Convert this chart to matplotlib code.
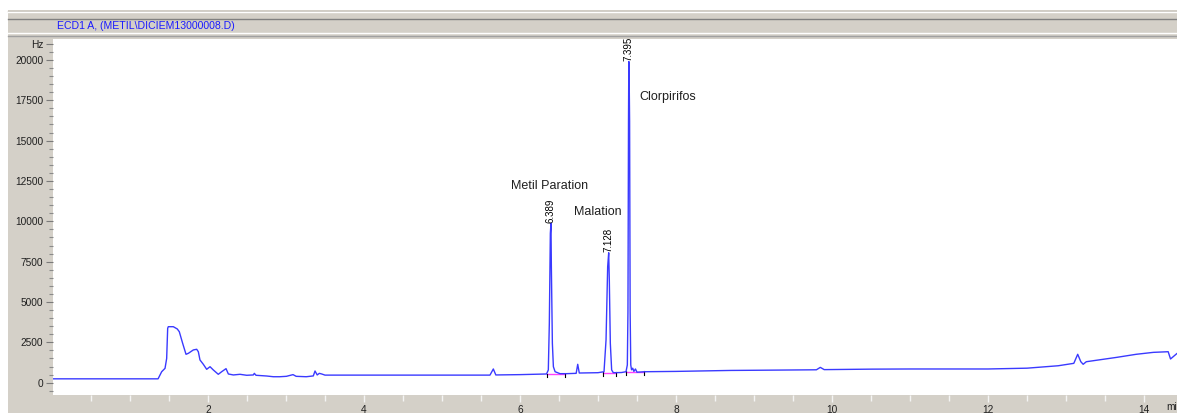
import matplotlib
matplotlib.use("Agg")
import matplotlib.pyplot as plt
from matplotlib.lines import Line2D
from matplotlib.patches import Rectangle
from matplotlib.ticker import MultipleLocator, FixedLocator

plt.rcParams['font.family'] = ['Liberation Sans', 'DejaVu Sans']

# ---------------- data ----------------
title_text = "ECD1 A, (METIL\\DICIEM13000008.D)"
y_unit = "Hz"
x_unit = "mi"

time_min = [0.0, 1.36, 1.406, 1.449, 1.47, 1.483, 1.491, 1.555, 1.606, 1.632,
            1.675, 1.718, 1.748, 1.812, 1.855, 1.876, 1.897, 1.940, 1.983, 2.026,
            2.068, 2.132, 2.175, 2.231, 2.261, 2.325, 2.41, 2.496, 2.581, 2.594,
            2.615, 2.752, 2.838, 2.92, 3.005, 3.09, 3.13, 3.26, 3.35, 3.372,
            3.40, 3.427, 3.458, 3.5, 5.615, 5.658, 5.69, 6.0, 6.34, 6.363,
            6.376, 6.389, 6.397, 6.402, 6.415, 6.428, 6.45, 6.513, 6.60, 6.72,
            6.74, 6.76, 7.0, 7.077, 7.103, 7.124, 7.137, 7.145, 7.158, 7.175,
            7.196, 7.30, 7.359, 7.376, 7.384, 7.391, 7.395, 7.400, 7.405, 7.412,
            7.42, 7.43, 7.445, 7.46, 7.48, 7.50, 7.6, 8.0, 8.7, 9.0,
            9.8, 9.85, 9.9, 10.5, 11.0, 12.0, 12.5, 12.9, 13.1, 13.15,
            13.19, 13.22, 13.26, 13.65, 13.9, 14.12, 14.31, 14.34, 14.42]
signal_hz = [240, 240, 680, 890, 1500, 3370, 3470, 3470, 3330, 3160,
             2440, 1760, 1820, 2030, 2070, 1920, 1410, 1140, 830, 990,
             790, 520, 680, 870, 540, 480, 520, 460, 480, 580,
             460, 415, 370, 370, 395, 500, 395, 370, 420, 725,
             480, 580, 540, 470, 470, 850, 480, 500, 540, 790,
             3680, 9250, 9880, 7190, 2440, 990, 680, 560, 560, 580,
             1140, 600, 620, 680, 2650, 7190, 8050, 6360, 2440, 790,
             620, 630, 680, 1100, 4400, 16200, 19900, 18650, 16200, 4400,
             1100, 800, 900, 700, 850, 650, 680, 700, 760, 770,
             800, 950, 810, 840, 850, 850, 900, 1050, 1200, 1760,
             1300, 1140, 1300, 1570, 1760, 1880, 1920, 1470, 1800]

peak_rt = [6.389, 7.128, 7.395]
peak_height = [9880, 8050, 19900]
peak_names = ["Metil Paration", "Malation", "Clorpirifos"]
# integration baselines (start, end) in minutes and levels in Hz
integ_start = [6.34, 7.07, 7.36]
integ_end = [6.58, 7.23, 7.59]
integ_level = [510, 590, 640]

y_major = [0, 2500, 5000, 7500, 10000, 12500, 15000, 17500, 20000]
x_major = [2, 4, 6, 8, 10, 12, 14]

# ---------------- figure ----------------
W, H = 1177, 413
fig = plt.figure(figsize=(W / 100, H / 100), dpi=100, facecolor='#d4d0c8')

def fx(px):
    return px / W

def fy(py):
    return 1 - py / H

# white top band and left strip
fig.add_artist(Rectangle((0, fy(9.5)), 1, 1 - fy(9.5), transform=fig.transFigure,
                         facecolor='white', edgecolor='none', zorder=0))
fig.add_artist(Rectangle((0, 0), fx(8), 1, transform=fig.transFigure,
                         facecolor='white', edgecolor='none', zorder=0))
for ypx, col, lw in [(10.5, '#c8c4bc', 1.0), (12, '#ffffff', 1.0),
                     (18.5, '#808080', 1.0), (33, '#ffffff', 1.0),
                     (36, '#a0a0a0', 1.0)]:
    fig.add_artist(Line2D([fx(8), 1], [fy(ypx), fy(ypx)], transform=fig.transFigure,
                          color=col, lw=lw, zorder=1))
fig.text(fx(57), fy(26), title_text, color='#1a1aff', fontsize=7.6,
         va='center', ha='left')

# plot area
ax_left, ax_right, ax_top, ax_bottom = 53, 1177, 39, 395
ax = fig.add_axes([fx(ax_left), fy(ax_bottom), fx(ax_right - ax_left),
                   (ax_bottom - ax_top) / H])
ax.set_facecolor('white')
ax.set_xlim(0.0128, 14.423)
ax.set_ylim(-762, 21295)

ax.plot(time_min, signal_hz, color='#3a3aff', lw=1.0, zorder=3)

for s, e, lv in zip(integ_start, integ_end, integ_level):
    ax.plot([s, e], [lv, lv], color='#ff40ff', lw=1.0, zorder=2)
    for xx in (s, e):
        ax.plot([xx, xx], [lv - 180, lv + 60], color='black', lw=0.8, zorder=2)

for rt, h in zip(peak_rt, peak_height):
    ax.text(rt, h + 20, f"{rt:.3f}", rotation=90, ha='center', va='bottom',
            fontsize=7, color='black', zorder=4)

name_pos = [(6.385, 12205, 'center'), (7.0, 10576, 'center'), (7.526, 17720, 'left')]
for name, (xx, yy, ha) in zip(peak_names, name_pos):
    ax.text(xx, yy, name, ha=ha, va='center', fontsize=9, color='#202020', zorder=4)

for sp in ax.spines.values():
    sp.set_visible(False)

# y axis
ax.yaxis.set_major_locator(FixedLocator(y_major + [21000]))
ax.set_yticklabels([str(v) for v in y_major] + [y_unit])
ax.yaxis.set_minor_locator(MultipleLocator(500))
ax.tick_params(axis='y', which='major', length=5, width=0.8, color='#7a7a7a',
               labelsize=7.3, labelcolor='#202020', pad=2)
ax.tick_params(axis='y', which='minor', length=3, width=0.8, color='#8a8a8a')

# x axis
ax.xaxis.set_major_locator(FixedLocator(x_major))
ax.set_xticklabels([str(v) for v in x_major])
ax.xaxis.set_minor_locator(MultipleLocator(0.5))
ax.tick_params(axis='x', which='major', length=5, width=1.0, color='#f4f4f4',
               labelsize=7.3, labelcolor='#202020', pad=2)
ax.tick_params(axis='x', which='minor', length=4, width=1.0, color='#f4f4f4')

fig.text(fx(1166), fy(407), x_unit, fontsize=7.3, color='#202020',
         ha='left', va='center')

fig.savefig('out.png', dpi=100, facecolor=fig.get_facecolor())
